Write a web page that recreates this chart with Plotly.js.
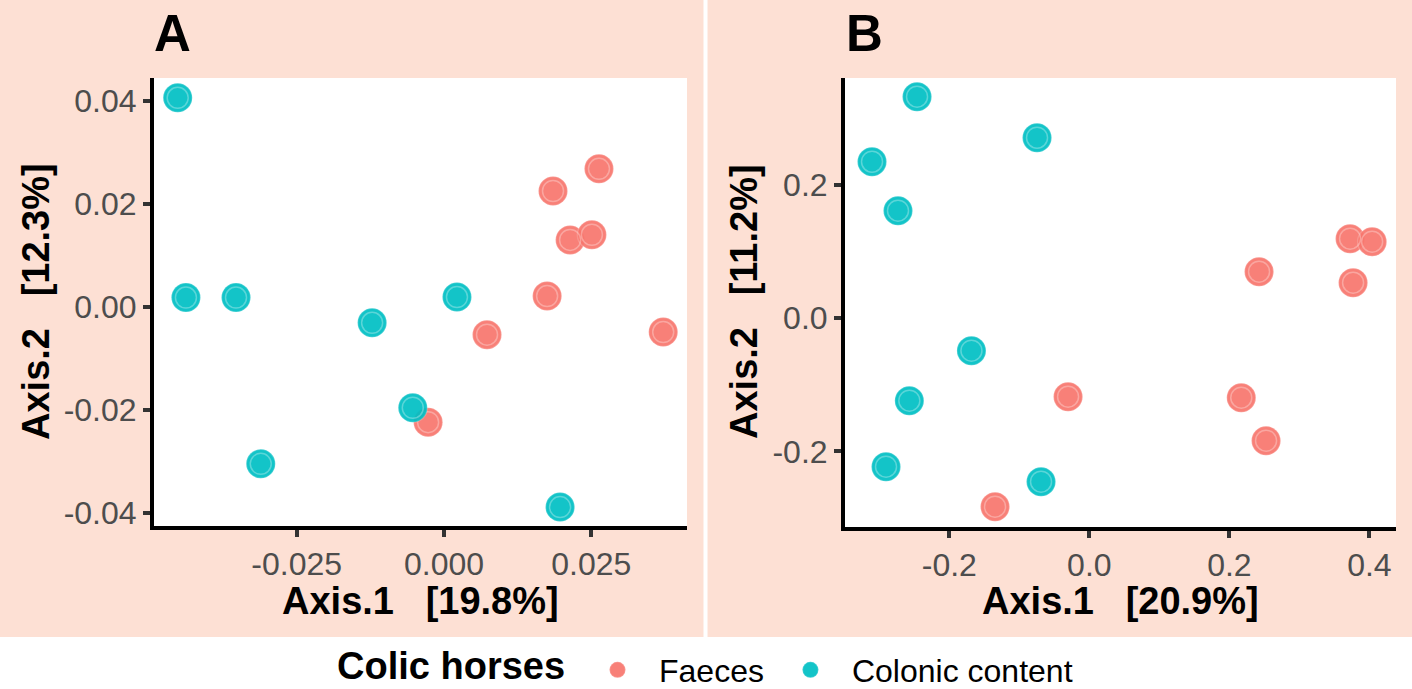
<!DOCTYPE html>
<html>
<head>
<meta charset="utf-8">
<script src="https://cdn.plot.ly/plotly-3.0.1.min.js"></script>
<style>html,body{margin:0;padding:0;background:#fff;}#chart{width:1412px;height:689px;}</style>
</head>
<body>
<div id="chart"></div>
<script>
// ---- Data ----
const groups = ["Faeces", "Colonic content"];
const groupColors = ["#F8766D", "#00BFC4"];

// Panel A
const faecesA_x = [-0.0027, 0.0073, 0.0175, 0.0185, 0.0214, 0.0251, 0.0263, 0.0372];
const faecesA_y = [-0.0224, -0.0054, 0.0021, 0.0225, 0.0130, 0.0140, 0.0268, -0.0049];
const colonA_x = [-0.0452, -0.0438, -0.0353, -0.0311, -0.0122, -0.0053, 0.0022, 0.0197];
const colonA_y = [0.0406, 0.0018, 0.0018, -0.0305, -0.0031, -0.0196, 0.0019, -0.0389];

// Panel B
const faecesB_x = [-0.1347, -0.0304, 0.2170, 0.2524, 0.2424, 0.3724, 0.4039, 0.3767];
const faecesB_y = [-0.2830, -0.1180, -0.1195, -0.1840, 0.0695, 0.1190, 0.1145, 0.0530];
const colonB_x = [-0.3104, -0.2733, -0.2461, -0.0747, -0.1684, -0.2571, -0.2904, -0.0690];
const colonB_y = [0.2344, 0.1610, 0.3320, 0.2704, -0.0490, -0.1240, -0.2230, -0.2455];

// Tick values / labels
const tickA_x = [-0.025, 0.000, 0.025];
const tickA_xText = ["-0.025", "0.000", "0.025"];
const tickA_y = [-0.04, -0.02, 0.00, 0.02, 0.04];
const tickA_yText = ["-0.04", "-0.02", "0.00", "0.02", "0.04"];
const tickB_x = [-0.2, 0.0, 0.2, 0.4];
const tickB_xText = ["-0.2", "0.0", "0.2", "0.4"];
const tickB_y = [-0.2, 0.0, 0.2];
const tickB_yText = ["-0.2", "0.0", "0.2"];

const titleA_x = "Axis.1\u00a0\u00a0\u00a0[19.8%]";
const titleA_y = "Axis.2\u00a0\u00a0\u00a0[12.3%]";
const titleB_x = "Axis.1\u00a0\u00a0\u00a0[20.9%]";
const titleB_y = "Axis.2\u00a0\u00a0\u00a0[11.2%]";
const legendTitle = "Colic horses";

// ---- Traces ----
const FONT = "Liberation Sans, Arial, Helvetica, sans-serif";
const panels = [
  {xa: "x", ya: "y", sets: [[faecesA_x, faecesA_y], [colonA_x, colonA_y]], legend: true},
  {xa: "x2", ya: "y2", sets: [[faecesB_x, faecesB_y], [colonB_x, colonB_y]], legend: false}
];
const traces = [];
panels.forEach(p => {
  p.sets.forEach((s, gi) => {
    traces.push({
      type: "scatter", mode: "markers", x: s[0], y: s[1], xaxis: p.xa, yaxis: p.ya,
      name: groups[gi], legendgroup: groups[gi], showlegend: p.legend,
      marker: {size: 29, color: groupColors[gi], opacity: 0.92,
               line: {width: 1.5, color: "rgba(255,255,255,0.2)"}},
      hoverinfo: "x+y+name"
    });
    traces.push({
      type: "scatter", mode: "markers", x: s[0], y: s[1], xaxis: p.xa, yaxis: p.ya,
      name: groups[gi], legendgroup: groups[gi], showlegend: false,
      marker: {size: 21, symbol: "circle-open", color: "rgba(255,255,255,0.3)",
               line: {width: 1.5, color: "rgba(255,255,255,0.3)"}},
      hoverinfo: "skip"
    });
  });
});

const axisBase = {
  showgrid: false, zeroline: false, showline: true, linecolor: "#000000", linewidth: 4,
  ticks: "outside", ticklen: 7, tickwidth: 4, tickcolor: "#333333",
  tickfont: {family: FONT, size: 32, color: "#4D4D4D"}, tickmode: "array", fixedrange: true
};

const H = 689, W = 1412;
const py = v => (H - v) / H;
const px = v => v / W;

const layout = {
  width: W, height: H,
  margin: {l: 0, r: 0, t: 0, b: 0, autoexpand: false},
  paper_bgcolor: "#FDE0D4",
  plot_bgcolor: "#FFFFFF",
  showlegend: true,
  xaxis: Object.assign({}, axisBase, {domain: [px(154), px(687)], range: [-0.04922, 0.04124],
          tickvals: tickA_x, ticktext: tickA_xText, anchor: "y"}),
  yaxis: Object.assign({}, axisBase, {domain: [py(526), py(78)], range: [-0.04257, 0.04445],
          tickvals: tickA_y, ticktext: tickA_yText, anchor: "x"}),
  xaxis2: Object.assign({}, axisBase, {domain: [px(845), px(1396)], range: [-0.349, 0.438],
          tickvals: tickB_x, ticktext: tickB_xText, anchor: "y2"}),
  yaxis2: Object.assign({}, axisBase, {domain: [py(527), py(78)], range: [-0.3135, 0.36],
          tickvals: tickB_y, ticktext: tickB_yText, anchor: "x2"}),
  legend: {
    orientation: "h", x: px(576), xanchor: "left", y: py(670), yanchor: "middle",
    bgcolor: "rgba(0,0,0,0)", borderwidth: 0,
    font: {family: FONT, size: 32, color: "#000"},
    itemsizing: "trace", itemwidth: 73, tracegroupgap: 0
  },
  shapes: [
    {type: "rect", xref: "paper", yref: "paper", x0: 0, x1: 1, y0: 0, y1: py(637),
     fillcolor: "#FFFFFF", line: {width: 0}, layer: "below"},
    {type: "rect", xref: "paper", yref: "paper", x0: px(703.5), x1: px(707.5), y0: py(637), y1: 1,
     fillcolor: "#FFFFFF", line: {width: 0}, layer: "below"}
  ],
  annotations: [
    {text: "<b>A</b>", xref: "paper", yref: "paper", x: px(152), y: py(33.5), xanchor: "left", yanchor: "middle",
     showarrow: false, font: {family: FONT, size: 51, color: "#000"}},
    {text: "<b>B</b>", xref: "paper", yref: "paper", x: px(844), y: py(33.5), xanchor: "left", yanchor: "middle",
     showarrow: false, font: {family: FONT, size: 51, color: "#000"}},
    {text: "<b>" + titleA_x + "</b>", xref: "paper", yref: "paper", x: px(420.5), y: py(601), xanchor: "center", yanchor: "middle",
     showarrow: false, font: {family: FONT, size: 38, color: "#000"}},
    {text: "<b>" + titleB_x + "</b>", xref: "paper", yref: "paper", x: px(1120.5), y: py(601), xanchor: "center", yanchor: "middle",
     showarrow: false, font: {family: FONT, size: 38, color: "#000"}},
    {text: "<b>" + titleA_y + "</b>", xref: "paper", yref: "paper", x: px(36), y: py(302), xanchor: "center", yanchor: "middle",
     textangle: -90, showarrow: false, font: {family: FONT, size: 38, color: "#000"}},
    {text: "<b>" + titleB_y + "</b>", xref: "paper", yref: "paper", x: px(744), y: py(302), xanchor: "center", yanchor: "middle",
     textangle: -90, showarrow: false, font: {family: FONT, size: 38, color: "#000"}},
    {text: "<b>" + legendTitle + "</b>", xref: "paper", yref: "paper", x: px(451), y: 0, xanchor: "center", yanchor: "bottom",
     showarrow: false, font: {family: FONT, size: 38, color: "#000"}}
  ]
};

Plotly.newPlot("chart", traces, layout, {displayModeBar: false, staticPlot: true});
</script>
</body>
</html>
